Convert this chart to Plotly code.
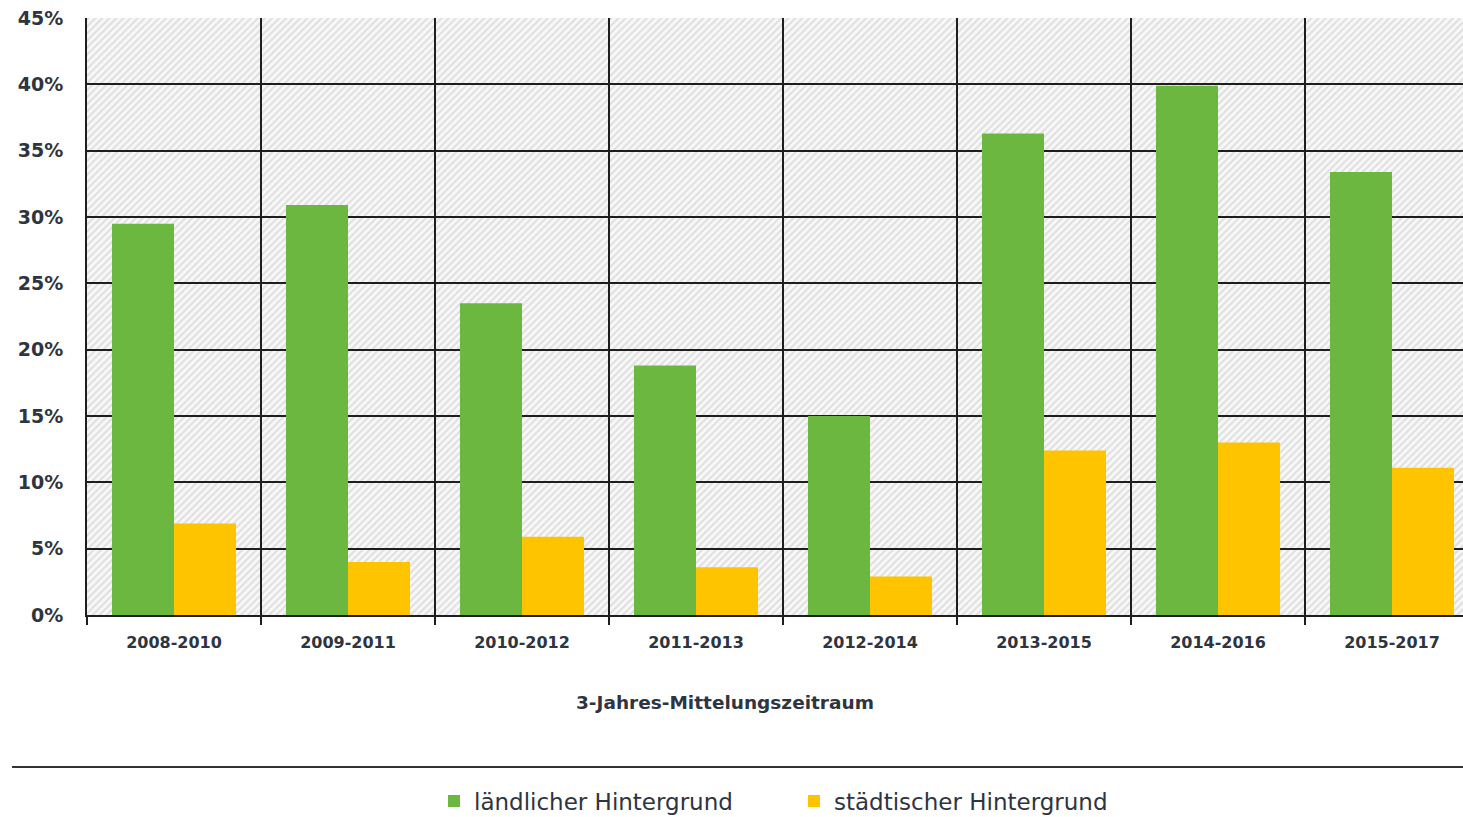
import base64
import plotly.graph_objects as go

categories = ["2008-2010", "2009-2011", "2010-2012", "2011-2013",
              "2012-2014", "2013-2015", "2014-2016", "2015-2017"]
laendlich = [29.5, 30.9, 23.5, 18.8, 15.0, 36.3, 39.9, 33.4]
staedtisch = [6.9, 4.0, 5.9, 3.6, 2.9, 12.4, 13.0, 11.1]
series_names = ["ländlicher Hintergrund", "städtischer Hintergrund"]
y_max = 45
y_ticks = [0, 5, 10, 15, 20, 25, 30, 35, 40, 45]
y_ticklabels = [f"{v}%" for v in y_ticks]

GREEN = "#6cb740"
YELLOW = "#fec400"
FONT = "DejaVu Sans"
TXT = "#2e3440"

W, H = 1463, 817
L, T, B, R = 87, 18, 202, 0
PW, PH = W - L - R, H - T - B

# hatched background texture for the plotting panel
svg = (
    f"<svg xmlns='http://www.w3.org/2000/svg' width='{PW}' height='{PH}'>"
    "<defs><pattern id='p' width='5' height='5' patternUnits='userSpaceOnUse' "
    "patternTransform='rotate(45)'>"
    "<rect width='5' height='5' fill='#f7f7f7'/>"
    "<rect width='2' height='5' fill='#e0e0e0'/></pattern></defs>"
    "<rect width='100%' height='100%' fill='url(#p)'/></svg>"
)
hatch_src = "data:image/svg+xml;base64," + base64.b64encode(svg.encode()).decode()

fig = go.Figure()
fig.add_trace(go.Bar(x=categories, y=laendlich, name=series_names[0],
                     marker=dict(color=GREEN, line=dict(width=0))))
fig.add_trace(go.Bar(x=categories, y=staedtisch, name=series_names[1],
                     marker=dict(color=YELLOW, line=dict(width=0))))

xr = [-0.5, -0.5 + PW / 174.0]
fig.update_layout(
    width=W, height=H,
    margin=dict(l=L, r=R, t=T, b=B, autoexpand=False),
    paper_bgcolor="white", plot_bgcolor="#f7f7f7",
    barmode="group", bargap=0.287, bargroupgap=0,
    font=dict(family=FONT, color=TXT),
    xaxis=dict(type="category", range=xr, tickson="boundaries",
               showgrid=True, gridcolor="#1e1e1e", gridwidth=2,
               ticks="outside", ticklen=8, tickwidth=2, tickcolor="#1e1e1e",
               showline=True, linecolor="#1e1e1e", linewidth=2,
               ticklabelstandoff=12,
               tickfont=dict(size=16, family=FONT, color=TXT, weight="bold"),
               fixedrange=True),
    yaxis=dict(range=[0, y_max], tickvals=y_ticks, ticktext=y_ticklabels,
               showgrid=True, gridcolor="#1e1e1e", gridwidth=2,
               showline=True, linecolor="#1e1e1e", linewidth=2,
               zeroline=False, ticks="", ticklabelstandoff=18,
               ticklabeloverflow="allow",
               tickfont=dict(size=19, family=FONT, color=TXT, weight="bold"),
               fixedrange=True),
    legend=dict(orientation="h", x=(434 - L) / PW, y=(615 - 801) / PH,
                xanchor="left", yanchor="middle",
                font=dict(size=23, family=FONT, color=TXT),
                entrywidth=315, entrywidthmode="pixels",
                traceorder="normal"),
    showlegend=True,
    images=[dict(source=hatch_src, xref="paper", yref="paper", x=0, y=1,
                 sizex=1, sizey=1, sizing="stretch", layer="below",
                 xanchor="left", yanchor="top")],
)

fig.add_annotation(text="<b>3-Jahres-Mittelungszeitraum</b>", xref="paper", yref="paper",
                   x=(725 - L) / PW, y=(615 - 702) / PH, xanchor="center", yanchor="middle",
                   showarrow=False, font=dict(size=18.5, family=FONT, color=TXT))
fig.add_shape(type="line", xref="paper", yref="paper",
              x0=(12 - L) / PW, x1=1, y0=(615 - 767) / PH, y1=(615 - 767) / PH,
              line=dict(color="#333333", width=2))

# let the figure fill the window exactly (no default page margin / scrollbars)
page_css = ("document.body.style.margin='0';"
            "document.documentElement.style.overflow='hidden';"
            "document.body.style.overflow='hidden';")
fig.write_html("out.html", post_script=page_css,
               config={"displayModeBar": False})
